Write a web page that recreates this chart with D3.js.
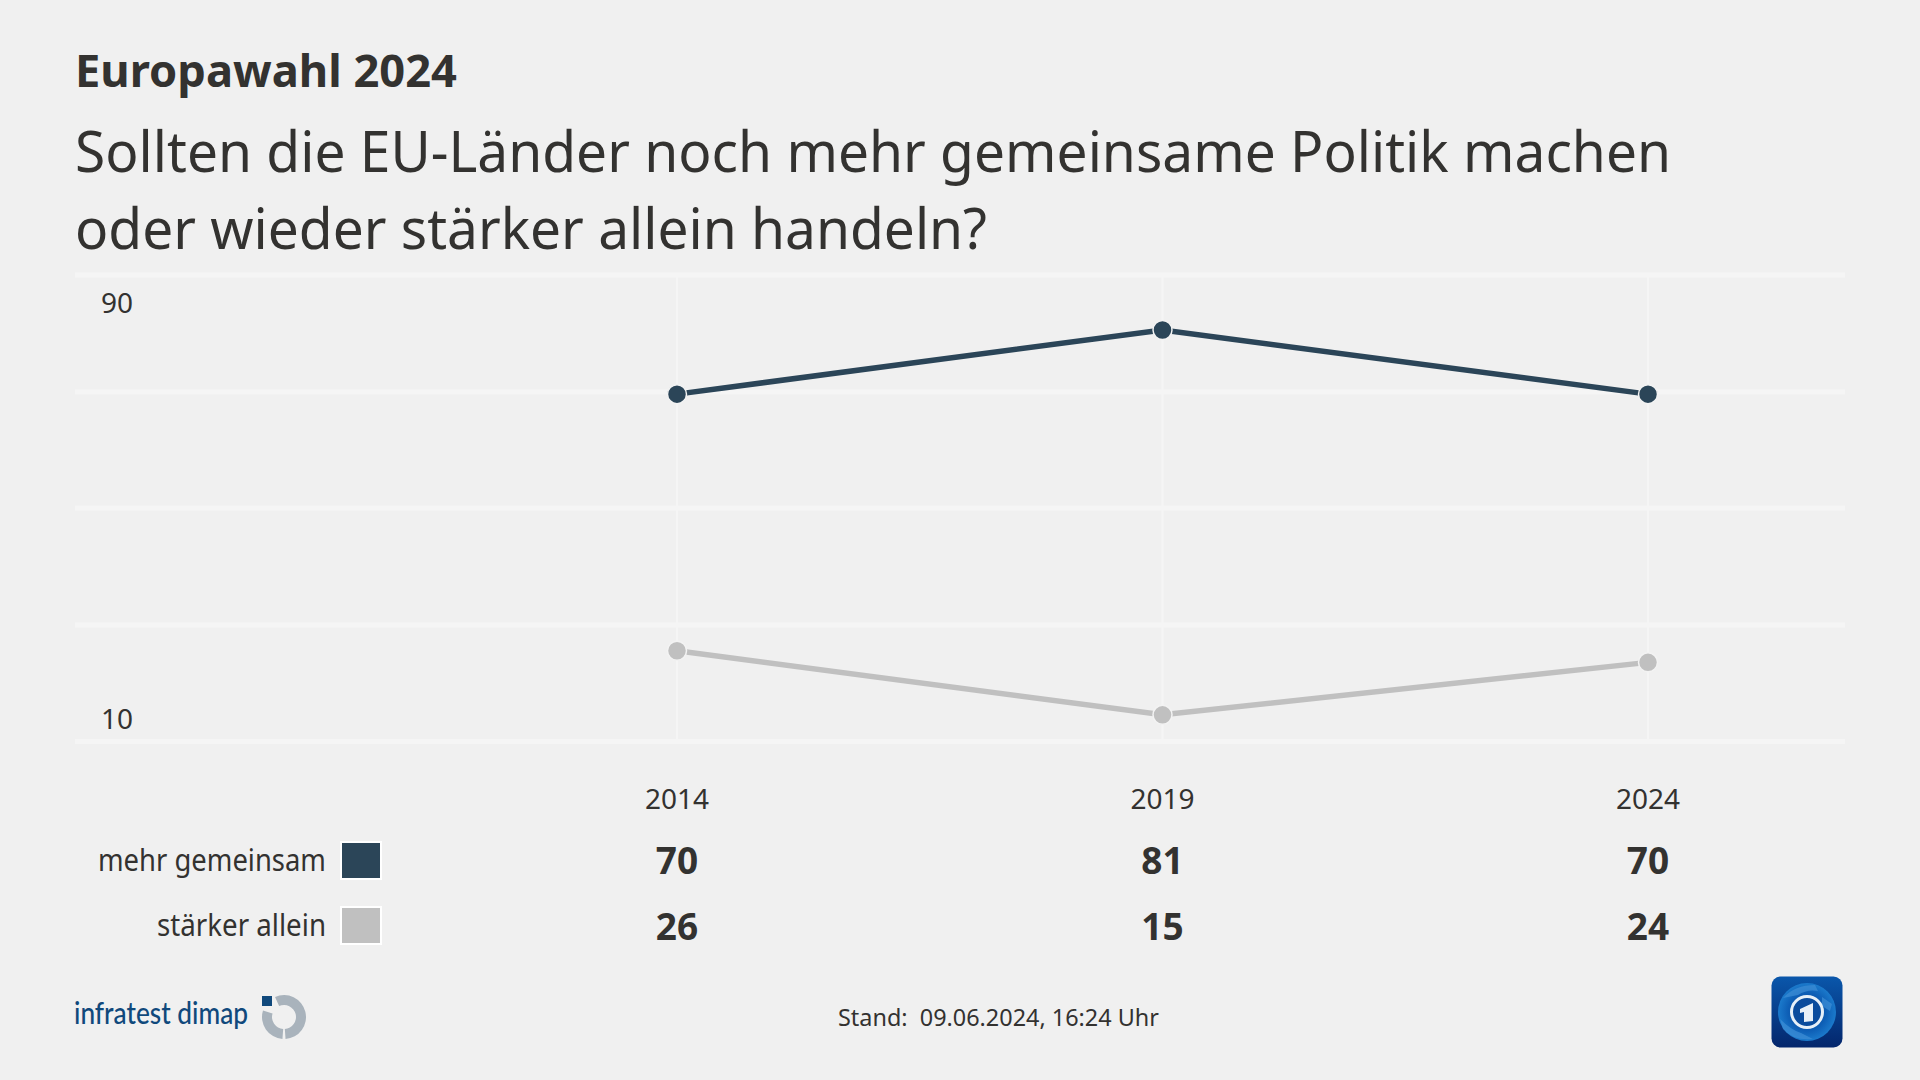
<!DOCTYPE html>
<html lang="de">
<head>
<meta charset="utf-8">
<title>Europawahl 2024</title>
<script src="https://cdn.jsdelivr.net/npm/d3@7/dist/d3.min.js"></script>
<style>
html,body{margin:0;padding:0;background:#f0f0f0;}
svg{display:block;}
text{font-family:"Noto Sans",sans-serif;fill:#333230;}
</style>
</head>
<body>
<script>
const kicker = "Europawahl 2024";
const titleLines = ["Sollten die EU-Länder noch mehr gemeinsame Politik machen", "oder wieder stärker allein handeln?"];
const years = ["2014", "2019", "2024"];
const seriesNames = ["mehr gemeinsam", "stärker allein"];
const seriesColors = ["#2b4558", "#c0c0c0"];
const gemeinsam = [70, 81, 70];
const allein = [26, 15, 24];
const seriesValues = [gemeinsam, allein];
const gridTicks = [90, 70, 50, 30, 10];
const axisLabels = [90, 10];
const footer = "Stand:  09.06.2024, 16:24 Uhr";
const logoText = "infratest dimap";

const svg = d3.select("body").append("svg").attr("width", 1920).attr("height", 1080);
const defs = svg.append("defs");

// Headline
svg.append("text").attr("x", 75).attr("y", 87).attr("font-size", 45).attr("font-weight", 700)
  .attr("textLength", 382).attr("lengthAdjust", "spacingAndGlyphs").text(kicker);
const titleW = [1596, 912];
titleLines.forEach((t, i) => {
  svg.append("text").attr("x", 75).attr("y", 172 + i * 76.5).attr("font-size", 56)
    .attr("textLength", titleW[i]).attr("lengthAdjust", "spacingAndGlyphs").text(t);
});

// Scales
const x = d3.scalePoint().domain(years).range([677, 1648]);
const y = d3.scaleLinear().domain([10, 90]).range([741.5, 275]);
const markOffset = 2.5;

// Grid
const grid = svg.append("g");
grid.selectAll(".h").data(gridTicks).join("line")
  .attr("x1", 75).attr("x2", 1845).attr("y1", d => y(d)).attr("y2", d => y(d))
  .attr("stroke", "#f5f5f5").attr("stroke-width", 5);
grid.selectAll(".v").data(years).join("line")
  .attr("x1", d => x(d)).attr("x2", d => x(d)).attr("y1", 275).attr("y2", 741.5)
  .attr("stroke", "#f5f5f5").attr("stroke-width", 2);

// Axis labels
svg.selectAll(".ax").data(axisLabels).join("text")
  .attr("x", 101).attr("y", d => d === 90 ? 313 : 729).attr("font-size", 28).text(d => d);

// Lines and points
const marks = svg.append("g").attr("transform", `translate(0,${markOffset})`);
const line = d3.line().x((d, i) => x(years[i])).y(d => y(d));
seriesValues.forEach((vals, s) => {
  marks.append("path").attr("d", line(vals)).attr("fill", "none")
    .attr("stroke", seriesColors[s]).attr("stroke-width", 5.5);
  marks.selectAll(null).data(vals).join("circle")
    .attr("cx", (d, i) => x(years[i])).attr("cy", d => y(d)).attr("r", 9.5)
    .attr("fill", seriesColors[s]).attr("stroke", "#f3f3f3").attr("stroke-width", 1.5);
});

// Table
svg.selectAll(".yr").data(years).join("text")
  .attr("x", d => x(d)).attr("y", 809).attr("text-anchor", "middle").attr("font-size", 28).text(d => d);
const rowBase = [874, 940];
const labelBase = [871, 936];
const labelW = [228, 169];
const swatchY = [842, 907];
seriesNames.forEach((n, s) => {
  svg.append("text").attr("x", 326).attr("y", labelBase[s]).attr("text-anchor", "end")
    .attr("font-size", 30).attr("textLength", labelW[s]).attr("lengthAdjust", "spacingAndGlyphs").text(n);
  svg.append("rect").attr("x", 341).attr("y", swatchY[s]).attr("width", 40).attr("height", 37)
    .attr("fill", seriesColors[s]).attr("stroke", "#fff").attr("stroke-width", 2);
  svg.selectAll(null).data(seriesValues[s]).join("text")
    .attr("x", (d, i) => x(years[i])).attr("y", rowBase[s]).attr("text-anchor", "middle")
    .attr("font-size", 37).attr("font-weight", 700).text(d => d);
});

// Footer
svg.append("text").attr("x", 838).attr("y", 1026).attr("font-size", 23).attr("xml:space", "preserve")
  .attr("textLength", 321).attr("lengthAdjust", "spacingAndGlyphs").text(footer);

// infratest dimap logo
svg.append("text").attr("x", 74).attr("y", 1024).attr("font-size", 30).attr("font-weight", 500)
  .style("font-family", "Lato,sans-serif").style("fill", "#10497c")
  .attr("textLength", 174).attr("lengthAdjust", "spacingAndGlyphs").text(logoText);
const logo = svg.append("g").attr("transform", "translate(284,1017)");
const arc = d3.arc().innerRadius(12).outerRadius(22);
logo.append("path").attr("fill", "#a9b3bc").attr("d", arc({startAngle: -0.42, endAngle: Math.PI - 0.07}));
logo.append("path").attr("fill", "#a9b3bc").attr("d", arc({startAngle: Math.PI + 0.07, endAngle: 1.5 * Math.PI + 0.3}));
logo.append("rect").attr("x", -22).attr("y", -21).attr("width", 10).attr("height", 10).attr("fill", "#10497c");

// tagesschau icon
const bgGrad = defs.append("linearGradient").attr("id", "tsBg").attr("x1", 0).attr("y1", 0).attr("x2", 0).attr("y2", 1);
bgGrad.append("stop").attr("offset", 0).attr("stop-color", "#0a57ab");
bgGrad.append("stop").attr("offset", 1).attr("stop-color", "#04266c");
const globeGrad = defs.append("radialGradient").attr("id", "tsGlobe").attr("cx", 0.5).attr("cy", 0.5).attr("r", 0.55);
globeGrad.append("stop").attr("offset", 0).attr("stop-color", "#07428f");
globeGrad.append("stop").attr("offset", 0.6).attr("stop-color", "#0e5fb6");
globeGrad.append("stop").attr("offset", 1).attr("stop-color", "#1f82d2");
const icon = svg.append("g").attr("transform", "translate(1807,1012)");
icon.append("rect").attr("x", -35.5).attr("y", -35.5).attr("width", 71).attr("height", 71).attr("rx", 9).attr("fill", "url(#tsBg)");
icon.append("circle").attr("r", 29).attr("fill", "url(#tsGlobe)");
icon.append("path").attr("d", "M-24,-14 Q-12,-27 8,-27 L11,-21 Q0,-23 -9,-17 Z M15,-15 L25,-8 L23,-1 L15,-6 Z M-27,7 Q-16,18 -6,21 L6,27 Q-14,29 -24,17 Z")
  .attr("fill", "#3f8ed6").attr("opacity", 0.7);
icon.append("circle").attr("r", 15.5).attr("fill", "#0a4c9d").attr("stroke", "#e6f0f8").attr("stroke-width", 3);
icon.append("path").attr("d", "M-7,-3 L6,-9 L6,9 L-3,10 L-3,0 L-7,1 Z").attr("fill", "#e8f1f8");
</script>
</body>
</html>
